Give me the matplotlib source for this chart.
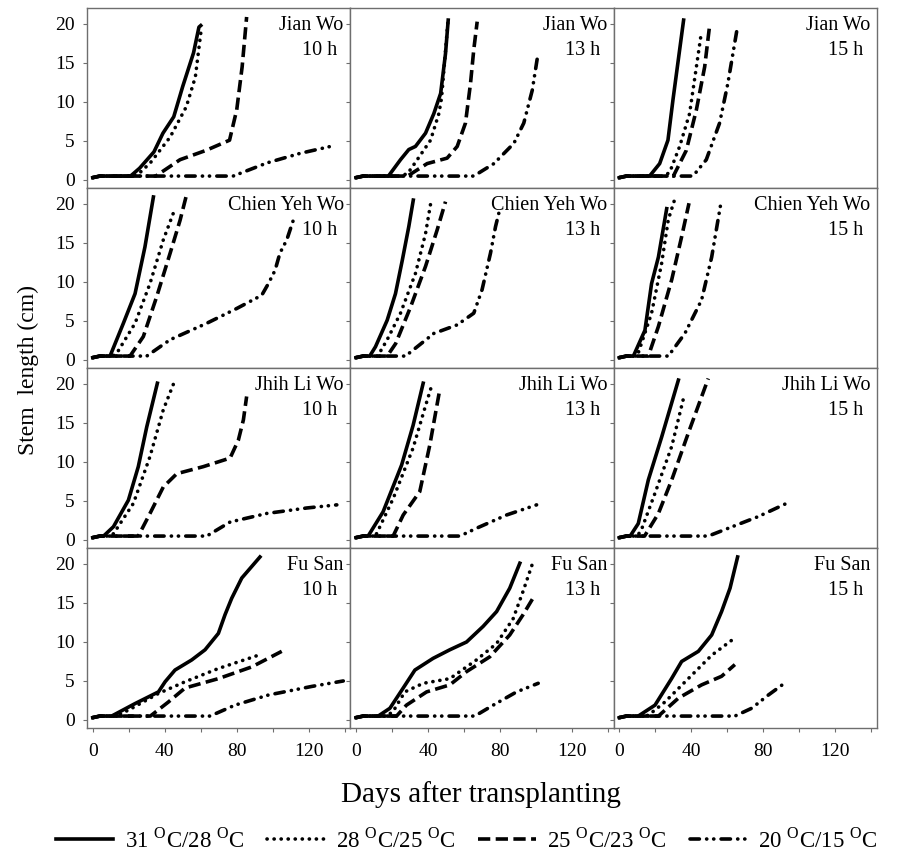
import matplotlib
matplotlib.use("Agg")
import matplotlib.pyplot as plt
from matplotlib.ticker import MultipleLocator, FuncFormatter

plt.rcParams['font.family'] = 'Liberation Serif'
plt.rcParams['mathtext.fontset'] = 'custom'
plt.rcParams['mathtext.rm'] = 'Liberation Serif'

cultivars = ['Jian Wo', 'Chien Yeh Wo', 'Jhih Li Wo', 'Fu San']
photoperiods = ['10 h', '13 h', '15 h']
treatments = [r'31 $^{\mathrm{O}}$C/28 $^{\mathrm{O}}$C', r'28 $^{\mathrm{O}}$C/25 $^{\mathrm{O}}$C',
              r'25 $^{\mathrm{O}}$C/23 $^{\mathrm{O}}$C', r'20 $^{\mathrm{O}}$C/15 $^{\mathrm{O}}$C']

# each panel: one (days, stem length) pair per treatment, same order as treatments
jian_wo_10 = [
    ([0, 4, 21, 26, 34, 39, 45, 50, 56, 59, 60], [0.3, 0.5, 0.5, 1.5, 3.6, 6.0, 8.1, 12, 16.3, 19.6, 19.8]),
    ([0, 4, 22, 26, 32, 43, 52, 57, 60, 60.5], [0.3, 0.5, 0.5, 0.9, 2.2, 5.5, 9.4, 13.2, 18.8, 19.4]),
    ([0, 4, 35, 48.5, 63, 76, 80, 83, 85.5], [0.3, 0.5, 0.5, 2.6, 3.8, 5.1, 9, 14.5, 20.9]),
    ([0, 4, 78, 97, 115, 134], [0.3, 0.5, 0.5, 2.2, 3.4, 4.4]),
]
jian_wo_13 = [
    ([0, 4, 18, 24.7, 29.3, 33, 38.6, 43.2, 47, 49.7, 51.2], [0.3, 0.5, 0.5, 2.6, 3.9, 4.3, 6, 8.5, 11.1, 16.2, 20.5]),
    ([0, 4, 24, 28.6, 34, 41.4, 46, 47.5, 49.5, 51], [0.3, 0.5, 0.5, 0.8, 2.6, 5.1, 8.5, 10.5, 16, 20.2]),
    ([0, 4, 28.6, 39.5, 50.6, 56.2, 60.8, 63.6, 65.4, 67.3], [0.3, 0.5, 0.5, 2.1, 2.8, 4.3, 7.3, 12.4, 16.7, 20.3]),
    ([0, 4, 65.4, 76.6, 87.7, 93.2, 97.9, 100.7], [0.3, 0.5, 0.5, 2.1, 4.7, 7.3, 11.5, 15.6]),
]
jian_wo_15 = [
    ([0, 4, 16.8, 22.4, 27, 29.8, 33.5, 35.7], [0.3, 0.5, 0.5, 2.1, 5.1, 10.3, 16.7, 20.5]),
    ([0, 4, 25, 28, 33.5, 39, 42.8, 45.5], [0.3, 0.5, 0.5, 1.0, 4.3, 8.5, 14.5, 18.8]),
    ([0, 4, 30, 37.2, 42.8, 47.4, 50.2], [0.3, 0.5, 0.5, 3.8, 9, 14.5, 19.9]),
    ([0, 4, 40.9, 48.3, 55.7, 60.3, 65.3], [0.3, 0.5, 0.5, 2.6, 7.3, 12.4, 19.2]),
]
chien_yeh_wo_10 = [
    ([0, 4, 9.6, 17, 23.5, 29, 33.7], [0.3, 0.5, 0.5, 4.7, 8.5, 14.5, 20.9]),
    ([0, 4, 11, 13.3, 23.5, 31.8, 39.2, 45.7], [0.3, 0.5, 0.5, 0.85, 4.7, 9.8, 15.4, 19.4]),
    ([0, 4, 20.7, 28.1, 35.5, 43, 48.5, 51.8], [0.3, 0.5, 0.5, 3, 8.1, 13.7, 17.9, 20.9]),
    ([0, 4, 30, 43, 63.3, 80, 93.9, 97.6, 101.3, 104, 107.8, 111.4],
     [0.3, 0.5, 0.5, 2.6, 4.7, 6.6, 8.3, 9.8, 11.5, 13.7, 15.4, 17.9]),
]
chien_yeh_wo_13 = [
    ([0, 4, 7.6, 10.8, 17.3, 21.9, 25.7, 29.3, 31.8], [0.3, 0.5, 0.5, 1.7, 5.1, 8.5, 12.8, 17.1, 20.5]),
    ([0, 4, 12, 17.3, 24.7, 33, 38.6, 41.4], [0.3, 0.5, 0.5, 2.6, 6, 11.1, 16.2, 20]),
    ([0, 4, 17.3, 22, 30.3, 38.6, 45.1, 49.7], [0.3, 0.5, 0.5, 2.1, 6.8, 12, 16.7, 20.3]),
    ([0, 4, 27.5, 34, 43.2, 56.2, 65.4, 70, 74.7, 77.5, 79.3], [0.3, 0.5, 0.5, 1.7, 3.4, 4.5, 6, 9, 13.7, 17.1, 18.8]),
]
chien_yeh_wo_15 = [
    ([0, 4, 7.8, 14.2, 17.9, 21.7, 26.3], [0.3, 0.5, 0.5, 3.8, 9.8, 13.2, 19.4]),
    ([0, 4, 8, 10.5, 17.9, 23.5, 27.2, 30.9], [0.3, 0.5, 0.5, 0.9, 6, 12.4, 18, 20.7]),
    ([0, 4, 16.1, 21.7, 29.1, 34.6, 38.7], [0.3, 0.5, 0.5, 4.3, 10.3, 15.8, 20.1]),
    ([0, 4, 27.2, 36.4, 45.7, 51.3, 56.4], [0.3, 0.5, 0.5, 3.4, 7.7, 13.2, 20.1]),
]
jhih_li_wo_10 = [
    ([0, 4, 6, 11.5, 19.8, 25.3, 30, 35.9], [0.3, 0.5, 0.5, 1.7, 5.1, 9.4, 14.5, 20.1]),
    ([0, 4, 9, 11.5, 22.6, 31.8, 39.2, 45.7], [0.3, 0.5, 0.5, 0.8, 4.7, 10.7, 16.7, 20.5]),
    ([0, 4, 25.3, 31.8, 39.2, 46.7, 61.4, 76.3, 80.9, 83.7, 85.5], [0.3, 0.5, 0.5, 3.4, 6.8, 8.5, 9.4, 10.5, 12.8, 15.4, 18.4]),
    ([0, 4, 63.3, 76.3, 96.7, 118.9, 135.6], [0.3, 0.5, 0.5, 2.3, 3.4, 4.1, 4.5]),
]
jhih_li_wo_13 = [
    ([0, 4, 6.7, 15, 25.3, 31.7, 37.3], [0.3, 0.5, 0.5, 3.6, 9.6, 14.7, 20.1]),
    ([0, 4, 9, 11.4, 20.6, 31.7, 38.2, 41.9], [0.3, 0.5, 0.5, 0.8, 5.3, 11.8, 16.9, 19.7]),
    ([0, 4, 20.6, 26.2, 35.4, 41, 46.6], [0.3, 0.5, 0.5, 3.2, 6.2, 12.2, 19.4]),
    ([0, 4, 57.7, 66.9, 83.6, 100.3], [0.3, 0.5, 0.5, 1.5, 3.2, 4.5]),
]
jhih_li_wo_15 = [
    ([0, 4, 6, 10.5, 16.1, 23.5, 32.8], [0.3, 0.5, 0.5, 2.1, 7.7, 13.2, 20.5]),
    ([0, 4, 10, 12.4, 19.8, 29.1, 36.1], [0.3, 0.5, 0.5, 1.4, 6, 12, 18.6]),
    ([0, 4, 14, 21.7, 29.1, 38.3, 49.4], [0.3, 0.5, 0.5, 3.4, 7.7, 13.7, 20.7]),
    ([0, 4, 49.4, 60.5, 77.2, 93.9], [0.3, 0.5, 0.5, 1.5, 3, 4.8]),
]
fu_san_10 = [
    ([0, 4, 10.5, 23.5, 36.5, 40.2, 45.7, 55, 62.4, 69.8, 73.5, 77.2, 82.8, 92.9],
     [0.3, 0.5, 0.5, 2.1, 3.6, 4.9, 6.4, 7.7, 9, 11.1, 13.5, 15.6, 18.2, 20.9]),
    ([0, 4, 12, 14.2, 21.7, 36.5, 51.3, 69.8, 92], [0.3, 0.5, 0.5, 0.6, 1.5, 3.4, 4.9, 6.6, 8.3]),
    ([0, 4, 32, 42, 51.3, 69.8, 88.3, 105], [0.3, 0.5, 0.5, 2.3, 4.1, 5.3, 6.8, 8.8]),
    ([0, 4, 65.2, 79, 97.6, 121.7, 139.2], [0.3, 0.5, 0.5, 1.9, 3.2, 4.3, 5]),
]
fu_san_13 = [
    ([0, 4, 12.3, 18.8, 26.2, 32.7, 42.8, 52.1, 61.4, 70.6, 78.1, 85.4, 91],
     [0.3, 0.5, 0.5, 1.5, 4.1, 6.4, 7.9, 9, 10, 12, 13.9, 16.9, 20.1]),
    ([0, 4, 17, 20.6, 27.1, 37.3, 52.1, 66.9, 78.1, 87.3, 92.8, 98.4],
     [0.3, 0.5, 0.5, 1.1, 3.6, 4.7, 5.3, 7.7, 9.8, 13, 16.5, 20.3]),
    ([0, 4, 22.5, 28, 39.2, 52.1, 61.4, 74.3, 85.4, 92.8, 99.3], [0.3, 0.5, 0.5, 1.9, 3.6, 4.5, 6.2, 8.1, 10.9, 13.5, 16]),
    ([0, 4, 66, 76.2, 89.2, 101.2], [0.3, 0.5, 0.5, 1.9, 3.6, 4.7]),
]
fu_san_15 = [
    ([0, 4, 10.5, 19.8, 29, 34.6, 43.9, 51.3, 56.8, 61.5, 65.7], [0.3, 0.5, 0.5, 1.9, 5.3, 7.5, 8.8, 10.9, 13.9, 16.9, 20.9]),
    ([0, 4, 13, 16.1, 25.3, 38.3, 51.3, 65.2], [0.3, 0.5, 0.5, 0.6, 2.3, 5.3, 8.3, 10.7]),
    ([0, 4, 21.7, 32.8, 45.7, 56.8, 64.2], [0.3, 0.5, 0.5, 2.8, 4.5, 5.6, 7.1]),
    ([0, 4, 64.2, 73.5, 82.8, 91.1], [0.3, 0.5, 0.5, 1.5, 3.2, 4.6]),
]

panels = [
    [jian_wo_10, jian_wo_13, jian_wo_15],
    [chien_yeh_wo_10, chien_yeh_wo_13, chien_yeh_wo_15],
    [jhih_li_wo_10, jhih_li_wo_13, jhih_li_wo_15],
    [fu_san_10, fu_san_13, fu_san_15],
]

styles = [
    dict(linestyle='-'),
    dict(linestyle=(0, (0.05, 1.9)), dash_capstyle='round'),
    dict(linestyle=(0, (3.4, 1.5))),
    dict(linestyle=(0, (2.6, 2.0, 0.05, 1.9, 0.05, 2.0)), dash_capstyle='round'),
]

W, H = 903, 855
fig = plt.figure(figsize=(W / 100, H / 100), dpi=100)

left_px, top_px = 87, 8
col_w, row_h = 263.3, 180
frame_col = '#6e6e6e'

handles = []
for r in range(4):
    for c in range(3):
        ax = fig.add_axes([(left_px + c * col_w) / W, 1 - (top_px + (r + 1) * row_h) / H,
                           col_w / W, row_h / H])
        for k, (days, vals) in enumerate(panels[r][c]):
            ln, = ax.plot(days, vals, color='black', lw=2.6, **styles[k])
            if r == 0 and c == 0:
                handles.append(ln)
        ax.set_xlim(-3.2, 143.1)
        ax.set_ylim(-1.03, 22.05)
        ax.xaxis.set_major_locator(MultipleLocator(20))
        ax.yaxis.set_major_locator(MultipleLocator(5))
        ax.tick_params(direction='out', length=3, width=0.8, color=frame_col, labelsize=14)
        ax.tick_params(axis='x', pad=8)
        ax.tick_params(axis='y', pad=6)
        ax.xaxis.set_major_formatter(FuncFormatter(lambda v, p: '%d' % v if v % 40 == 0 else ''))
        if c != 0:
            ax.set_yticklabels([])
        if r != 3:
            ax.set_xticklabels([])
        for s in ax.spines.values():
            s.set_color(frame_col)
            s.set_linewidth(1.0)
        ax.text(0.975, 0.905, cultivars[r], transform=ax.transAxes, ha='right', va='center', fontsize=14.5)
        ax.text(0.95, 0.765, photoperiods[c], transform=ax.transAxes, ha='right', va='center', fontsize=14.5)

fig.text(28 / W, 1 - 370 / H, 'Stem  length (cm)', rotation=90, ha='center', va='center', fontsize=17)
fig.text(481 / W, 1 - 795 / H, 'Days after transplanting', ha='center', va='center', fontsize=21)

fig.legend(handles, treatments, loc='center', bbox_to_anchor=(467 / W, 1 - 840 / H), ncol=4,
           frameon=False, fontsize=16.5, handlelength=2.5, handletextpad=0.5, columnspacing=1.0,
           borderpad=0, borderaxespad=0)

fig.savefig('out.png', dpi=100)
